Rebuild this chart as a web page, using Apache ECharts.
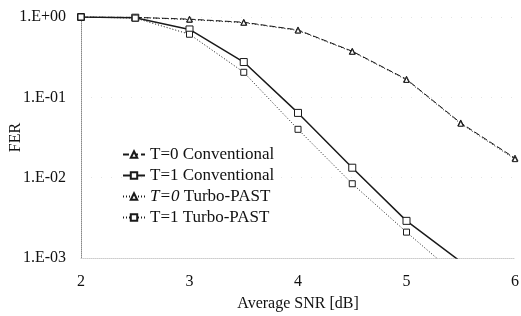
<!DOCTYPE html>
<html>
<head>
<meta charset="utf-8">
<script src="https://cdn.jsdelivr.net/npm/echarts@6/dist/echarts.min.js"></script>
<style>
html, body { margin: 0; padding: 0; background: #fff; }
#main { width: 521px; height: 316px; }
</style>
</head>
<body>
<div id="main"></div>
<script>
// SNR values (dB), x axis
var snr = [2, 2.5, 3, 3.5, 4, 4.5, 5, 5.5, 6];
// FER per series
var t0Conv  = [1.0, 0.99, 0.94, 0.86, 0.69, 0.375, 0.168, 0.048, 0.0175];
var t1Conv  = [1.0, 0.98, 0.70, 0.275, 0.064, 0.0133, 0.0029, 0.0009];
var t0Turbo = [1.0, 0.99, 0.93, 0.85, 0.68, 0.37, 0.165, 0.047, 0.017];
var t1Turbo = [1.0, 0.97, 0.61, 0.205, 0.040, 0.0084, 0.0021, 0.00055];
var names = ['T=0 Conventional', 'T=1 Conventional', 'T=0 Turbo-PAST', 'T=1 Turbo-PAST'];
var yTicks = ['1.E-03', '1.E-02', '1.E-01', '1.E+00'];

function pairs(vals) {
    var out = [];
    for (var i = 0; i < vals.length; i++) {
        out.push([snr[i], vals[i]]);
    }
    return out;
}

var myChart = echarts.init(document.getElementById('main'));
var font = 'Liberation Serif';

function mkSeries(name, vals, symbol, lineType, width, size) {
    return {
        name: name,
        type: 'line',
        data: pairs(vals),
        symbol: symbol,
        symbolSize: size,
        showAllSymbol: true,
        clip: true,
        lineStyle: { color: '#1a1a1a', width: width, type: lineType },
        itemStyle: { color: '#fff', borderColor: '#1a1a1a', borderWidth: 1 },
        emphasis: { disabled: true }
    };
}

myChart.setOption({
    animation: false,
    backgroundColor: '#fff',
    grid: { left: 81, right: 6, top: 17, bottom: 58, outerBoundsMode: 'none' },
    legend: {
        data: names,
        orient: 'vertical',
        left: 117,
        top: 141,
        itemGap: 4,
        itemWidth: 22,
        itemHeight: 8,
        textStyle: {
            fontFamily: font, fontSize: 17, color: '#111',
            rich: { i: { fontFamily: font, fontSize: 17, fontStyle: 'italic', color: '#111' } }
        },
        formatter: function (n) {
            if (n === 'T=0 Turbo-PAST') return '{i|T=0} Turbo-PAST';
            return n;
        }
    },
    xAxis: {
        type: 'value',
        min: 2, max: 6, interval: 1,
        name: 'Average SNR [dB]',
        nameLocation: 'middle',
        nameGap: 38,
        nameMoveOverlap: false,
        nameTextStyle: { fontFamily: font, fontSize: 16, color: '#111' },
        axisLine: { show: true, lineStyle: { color: '#ccc', type: 'dotted' } },
        axisTick: { show: false },
        axisLabel: { margin: 16, fontFamily: font, fontSize: 16, color: '#111' },
        splitLine: { show: false }
    },
    yAxis: {
        type: 'log',
        logBase: 10,
        min: 0.001, max: 1,
        name: 'FER',
        nameLocation: 'middle',
        nameGap: 57,
        nameMoveOverlap: false,
        nameTextStyle: { fontFamily: font, fontSize: 16, color: '#111' },
        axisLine: { show: true, lineStyle: { color: '#888', type: 'dotted' } },
        axisTick: { show: false },
        axisLabel: {
            margin: 15, fontFamily: font, fontSize: 16, color: '#111',
            formatter: function (v) {
                var e = Math.round(Math.log10(v)) + 3;
                return yTicks[e];
            }
        },
        splitLine: { show: true, lineStyle: { color: '#e4e4e4', type: [1, 9] } }
    },
    series: [
        mkSeries(names[0], t0Conv, 'triangle', [6, 3], 1, 6),
        mkSeries(names[1], t1Conv, 'rect', 'solid', 1.5, 7),
        mkSeries(names[2], t0Turbo, 'triangle', [1, 2], 1, 5),
        mkSeries(names[3], t1Turbo, 'rect', [1, 2], 1, 6)
    ]
});
</script>
</body>
</html>
